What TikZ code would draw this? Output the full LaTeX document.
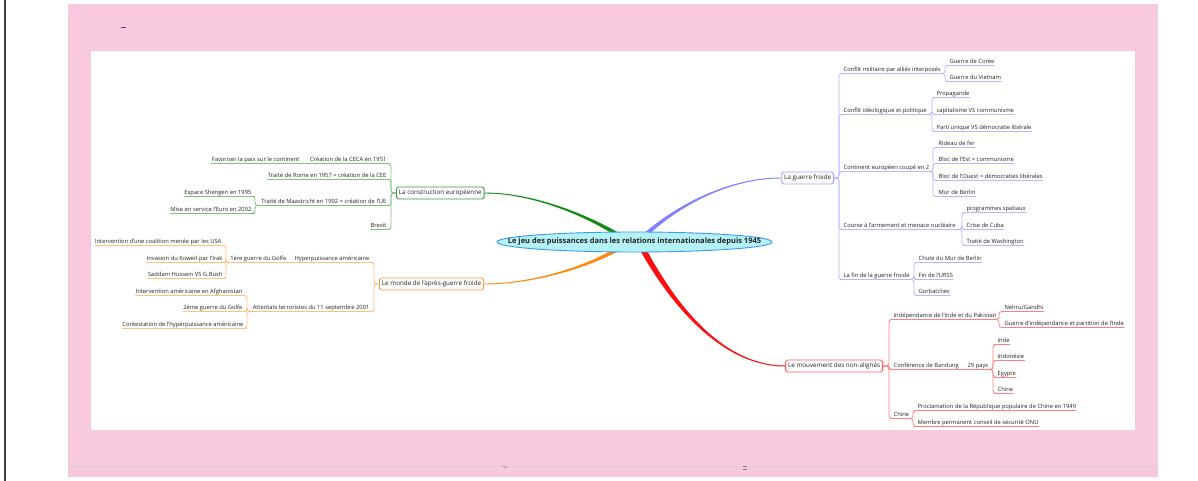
\documentclass[tikz,border=0pt]{standalone}
\usepackage{fontspec}
\setmainfont{Open Sans}
\usetikzlibrary{calc,shapes.geometric}
\definecolor{pinkbg}{HTML}{F8C8DF}
\definecolor{txt}{HTML}{222222}
\definecolor{gmain}{HTML}{138A13}
\definecolor{gline}{HTML}{7CC47C}
\definecolor{gbord}{HTML}{3C9A3C}
\definecolor{omain}{HTML}{FF8A12}
\definecolor{oline}{HTML}{FFC080}
\definecolor{obord}{HTML}{FF9A3C}
\definecolor{pmain}{HTML}{8080FF}
\definecolor{pline}{HTML}{B8B8FF}
\definecolor{pbord}{HTML}{9C9CFF}
\definecolor{rmain}{HTML}{FF1010}
\definecolor{rline}{HTML}{FF8080}
\definecolor{rbord}{HTML}{FF5A5A}
\definecolor{cfill}{HTML}{B4F2F8}
\definecolor{cbord}{HTML}{3A9AF0}
\begin{document}
\begin{tikzpicture}[x=1pt,y=-1pt,
  lbl/.style={font=\fontsize{5.8}{7}\selectfont, text=txt, inner xsep=0.4pt, inner ysep=0.5pt, text height=4.3pt, text depth=1.3pt},
  lr/.style={lbl, anchor=south west},
  ll/.style={lbl, anchor=south east},
  mbox/.style={draw, line width=0.9pt, rounded corners=1.8pt, fill=white, font=\fontsize{6.3}{7.5}\selectfont, text=txt, inner xsep=2.5pt, inner ysep=1.5pt, minimum height=12pt},
  conn/.style={line width=0.8pt, rounded corners=2.8pt},
]
\useasboundingbox (0,0) rectangle (1198,481);
\fill[white] (0,0) rectangle (1198,481);
\fill[pinkbg] (68,4) rectangle (1158,477);
\fill[white] (91,51) rectangle (1135,430);
\draw[black!75, line width=2pt] (5,0) -- (5,481);
\draw[black!70, line width=1pt] (121,28) -- (126,28);
\draw[black!18, line width=0.6pt] (68,466) -- (1158,466);
\draw[black!50, line width=0.6pt] (503,466) -- (507,468);
\draw[black!50, line width=0.6pt] (743,466) -- (747,466) (743,469) -- (747,469);

\coordinate (hub) at (634.5,242);

% main boxes
\node[mbox, draw=gbord, anchor=west] (gbox) at (396,193) {La construction européenne};
\node[mbox, draw=obord, anchor=west] (obox) at (379,284) {Le monde de l'après-guerre froide};
\node[mbox, draw=pbord, anchor=east] (pbox) at (834,178) {La guerre froide};
\node[mbox, draw=rbord, anchor=east] (rbox) at (883,366) {Le mouvement des non-alignés};

% tapered main branches
\fill[gmain] ($(hub)+(-7.2,-3.9)$) .. controls (601,221) and (540,192.5) .. ($(gbox.east)+(0,-0.45)$)
  -- ($(gbox.east)+(0,0.45)$) .. controls (540,193.5) and (599,223) .. ($(hub)+(-9.8,-0.1)$) -- cycle;
\fill[omain] ($(hub)+(-9.8,0.1)$) .. controls (599,261) and (540,283.5) .. ($(obox.east)+(0,-0.45)$)
  -- ($(obox.east)+(0,0.45)$) .. controls (540,284.5) and (601,263) .. ($(hub)+(-7.2,3.9)$) -- cycle;
\fill[pmain] ($(hub)+(3.9,-3.6)$) .. controls (664,214) and (720,177.5) .. ($(pbox.west)+(0,-0.45)$)
  -- ($(pbox.west)+(0,0.45)$) .. controls (720,178.5) and (666,216) .. ($(hub)+(7.1,-0.4)$) -- cycle;
\fill[rmain] ($(hub)+(8.2,0.6)$) .. controls (672,299) and (720,365.5) .. ($(rbox.west)+(0,-0.5)$)
  -- ($(rbox.west)+(0,0.5)$) .. controls (720,366.5) and (668,301.5) .. ($(hub)+(2.8,3.4)$) -- cycle;

% central topic
\node[ellipse, draw=cbord, line width=0.9pt, fill=cfill, minimum width=275pt, minimum height=20pt, inner sep=0pt] (root) at (hub) {};
\node[font=\bfseries\fontsize{7.5}{9}\selectfont, text=txt, inner sep=0pt] (roottxt) at (root.center) {Le jeu des puissances dans les relations internationales depuis 1945};

% ---------- green ----------
\node[ll] (gc1) at (387,163.5) {Création de la CECA en 1951};
\node[ll] (gc1a) at (300,163.5) {Favoriser la paix sur le continent};
\node[ll] (gc2) at (387,179.5) {Traité de Rome en 1957 = création de la CEE};
\node[ll] (gc3) at (387,205.5) {Traité de Maastricht en 1992 = création de l'UE};
\node[ll] (gc3a) at (252,196.5) {Espace Shengen en 1995};
\node[ll] (gc3b) at (252,213.5) {Mise en service l'Euro en 2002};
\node[ll] (gc4) at (387,229.5) {Brexit};
\coordinate (gT) at (391,193);
\coordinate (gT3) at (255,205.5);
\foreach \c in {gc1,gc2,gc3,gc4}
  \draw[conn, gline] (gbox.west) -- (gT) |- (\c.south east) -- (\c.south west);
\draw[conn, gline] (gc1.south west) -- (gc1a.south east) -- (gc1a.south west);
\foreach \c in {gc3a,gc3b}
  \draw[conn, gline] (gc3.south west) -- (gT3) |- (\c.south east) -- (\c.south west);

% ---------- orange ----------
\node[ll] (oc1) at (370,262.5) {Hyperpuissance américaine};
\node[ll] (oc1a) at (287,262.5) {1ère guerre du Golfe};
\node[ll] (oc1a1) at (222,245.5) {Intervention d'une coalition menée par les USA};
\node[ll] (oc1a2) at (223,262.5) {Invasion du Koweït par l'Irak};
\node[ll] (oc1a3) at (223,278.5) {Saddam Hussein VS G.Bush};
\node[ll] (oc2) at (370,311.5) {Attentats terroristes du 11 septembre 2001};
\node[ll] (oc2a) at (243,295.5) {Intervention américaine en Afghanistan};
\node[ll] (oc2b) at (243,311.5) {2ème guerre du Golfe};
\node[ll] (oc2c) at (244,328.5) {Contestation de l'hyperpuissance américaine};
\coordinate (oT) at (374,284);
\coordinate (oT1) at (226,262.5);
\coordinate (oT2) at (247,311.5);
\foreach \c in {oc1,oc2}
  \draw[conn, oline] (obox.west) -- (oT) |- (\c.south east) -- (\c.south west);
\draw[conn, oline] (oc1.south west) -- (oc1a.south east) -- (oc1a.south west);
\foreach \c in {oc1a1,oc1a2,oc1a3}
  \draw[conn, oline] (oc1a.south west) -- (oT1) |- (\c.south east) -- (\c.south west);
\foreach \c in {oc2a,oc2b,oc2c}
  \draw[conn, oline] (oc2.south west) -- (oT2) |- (\c.south east) -- (\c.south west);

% ---------- purple ----------
\node[lr] (pc1) at (843,73.5) {Conflit militaire par alliés interposés};
\node[lr] (pc1a) at (949,65.5) {Guerre de Corée};
\node[lr] (pc1b) at (949,81.5) {Guerre du Vietnam};
\node[lr] (pc2) at (843,114.5) {Conflit idéologique et politique};
\node[lr] (pc2a) at (936,97.5) {Propagande};
\node[lr] (pc2b) at (936,114.5) {capitalisme VS communisme};
\node[lr] (pc2c) at (936,131.5) {Parti unique VS démocratie libérale};
\node[lr] (pc3) at (843,171.5) {Continent européen coupé en 2};
\node[lr] (pc3a) at (938,147.5) {Rideau de fer};
\node[lr] (pc3b) at (938,163.5) {Bloc de l'Est = communisme};
\node[lr] (pc3c) at (938,180.5) {Bloc de l'Ouest = démocraties libérales};
\node[lr] (pc3d) at (938,196.5) {Mur de Berlin};
\node[lr] (pc4) at (843,229.5) {Course à l'armement et menace nucléaire};
\node[lr] (pc4a) at (966,212.5) {programmes spatiaux};
\node[lr] (pc4b) at (966,229.5) {Crise de Cuba};
\node[lr] (pc4c) at (966,245.5) {Traité de Washington};
\node[lr] (pc5) at (843,279.5) {La fin de la guerre froide};
\node[lr] (pc5a) at (918,262.5) {Chute du Mur de Berlin};
\node[lr] (pc5b) at (918,279.5) {Fin de l'URSS};
\node[lr] (pc5c) at (918,295.5) {Gorbatchev};
\coordinate (pT) at (839,178);
\coordinate (pT1) at (945,73.5);
\coordinate (pT2) at (932,114.5);
\coordinate (pT3) at (933,171.5);
\coordinate (pT4) at (962,229.5);
\coordinate (pT5) at (914,279.5);
\foreach \c in {pc1,pc2,pc3,pc4,pc5}
  \draw[conn, pline] (pbox.east) -- (pT) |- (\c.south west) -- (\c.south east);
\foreach \c in {pc1a,pc1b}
  \draw[conn, pline] (pc1.south east) -- (pT1) |- (\c.south west) -- (\c.south east);
\foreach \c in {pc2a,pc2b,pc2c}
  \draw[conn, pline] (pc2.south east) -- (pT2) |- (\c.south west) -- (\c.south east);
\foreach \c in {pc3a,pc3b,pc3c,pc3d}
  \draw[conn, pline] (pc3.south east) -- (pT3) |- (\c.south west) -- (\c.south east);
\foreach \c in {pc4a,pc4b,pc4c}
  \draw[conn, pline] (pc4.south east) -- (pT4) |- (\c.south west) -- (\c.south east);
\foreach \c in {pc5a,pc5b,pc5c}
  \draw[conn, pline] (pc5.south east) -- (pT5) |- (\c.south west) -- (\c.south east);

% ---------- red ----------
\node[lr] (rc1) at (893,319.5) {Indépendance de l'Inde et du Pakistan};
\node[lr] (rc1a) at (1004,311.5) {Nehru/Gandhi};
\node[lr] (rc1b) at (1004,327.5) {Guerre d'indépendance et partition de l'Inde};
\node[lr] (rc2) at (893,369.5) {Conférence de Bandung};
\node[lr] (rc2x) at (967,369.5) {29 pays};
\node[lr] (rc2a) at (997,344.5) {Inde};
\node[lr] (rc2b) at (997,360.5) {Indonésie};
\node[lr] (rc2c) at (997,377.5) {Egypte};
\node[lr] (rc2d) at (997,393.5) {Chine};
\node[lr] (rc3) at (893,418.5) {Chine};
\node[lr] (rc3a) at (917,410.5) {Proclamation de la République populaire de Chine en 1949};
\node[lr] (rc3b) at (917,426.5) {Membre permanent conseil de sécurité ONU};
\coordinate (rT) at (889,366);
\coordinate (rT1) at (999,319.5);
\coordinate (rT2) at (993,369.5);
\coordinate (rT3) at (913,418.5);
\foreach \c in {rc1,rc2,rc3}
  \draw[conn, rline] (rbox.east) -- (rT) |- (\c.south west) -- (\c.south east);
\draw[conn, rline] (rc2.south east) -- (rc2x.south west) -- (rc2x.south east);
\foreach \c in {rc1a,rc1b}
  \draw[conn, rline] (rc1.south east) -- (rT1) |- (\c.south west) -- (\c.south east);
\foreach \c in {rc2a,rc2b,rc2c,rc2d}
  \draw[conn, rline] (rc2x.south east) -- (rT2) |- (\c.south west) -- (\c.south east);
\foreach \c in {rc3a,rc3b}
  \draw[conn, rline] (rc3.south east) -- (rT3) |- (\c.south west) -- (\c.south east);
\end{tikzpicture}
\end{document}
